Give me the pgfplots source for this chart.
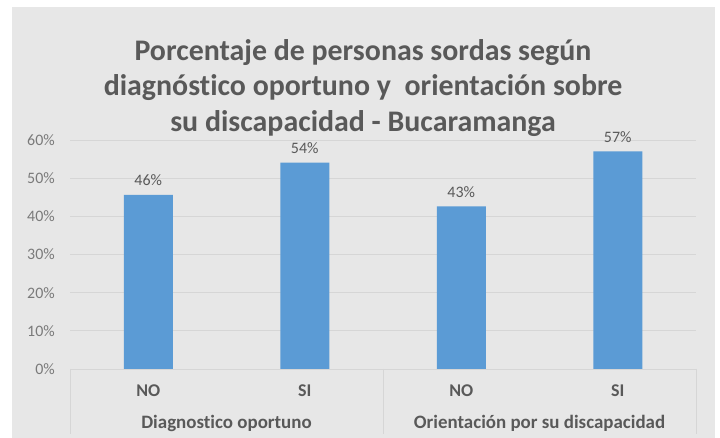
\documentclass[border=0pt]{standalone}
\usepackage{pgfplots}
\pgfplotsset{compat=1.18}
\usepackage{fontspec}
\setmainfont{Carlito}[Ligatures=NoCommon]
\definecolor{bg}{HTML}{E7E7E7}
\definecolor{barblue}{HTML}{5B9BD5}
\definecolor{txt}{HTML}{595959}
\definecolor{ticktxt}{HTML}{7A7A7A}
\definecolor{gridc}{HTML}{D6D6D6}
\begin{document}
\begin{tikzpicture}[x=1bp,y=1bp]
\fill[white] (0,0) rectangle (720,438);
\fill[bg] (12,0) rectangle (715,431);
\node[text=txt, font=\fontsize{30}{36}\selectfont\bfseries, align=center] at (363,350) {Porcentaje de personas sordas según\\diagnóstico oportuno y\ \ orientación sobre\\su discapacidad - Bucaramanga};
\begin{axis}[
  at={(70bp,69bp)}, anchor=south west,
  scale only axis, width=626bp, height=229bp,
  ymin=0, ymax=60, xmin=-0.5, xmax=3.5,
  ybar, bar width=49bp,
  axis line style={draw=none},
  major tick length=0pt,
  /pgf/number format/assume math mode=true,
  ymajorgrids, grid style={gridc, line width=0.8bp},
  ytick={0,10,20,30,40,50,60},
  yticklabel={\pgfmathprintnumber{\tick}\%},
  yticklabel style={text=ticktxt, font=\fontsize{16}{19}\selectfont, anchor=east, inner sep=0pt, xshift=-15bp},
  xtick={0,1,2,3}, xticklabels={NO,SI,NO,SI},
  xticklabel style={text=txt, font=\fontsize{18}{21}\selectfont\bfseries, anchor=north, inner sep=0pt, yshift=-16bp},
  point meta=y,
  nodes near coords={\pgfmathprintnumber[fixed,precision=0]{\pgfplotspointmeta}\%},
  every node near coord/.append style={text=txt, font=\fontsize{16}{19}\selectfont, anchor=south, inner sep=0pt, yshift=9bp},
  clip=false,
]
\addplot[fill=barblue, draw=none] coordinates {(0,45.6) (1,54.1) (2,42.6) (3,57.0)};
\draw[gridc, line width=0.8bp] (axis cs:-0.5,0) -- ++(0bp,-65bp);
\draw[gridc, line width=0.8bp] (axis cs:1.5,0) -- ++(0bp,-65bp);
\draw[gridc, line width=0.8bp] (axis cs:3.5,0) -- ++(0bp,-65bp);
\node[text=txt, font=\fontsize{19}{22}\selectfont\bfseries] at (axis cs:0.5,0) [yshift=-54bp] {Diagnostico oportuno};
\node[text=txt, font=\fontsize{19}{22}\selectfont\bfseries] at (axis cs:2.5,0) [yshift=-54bp] {Orientación por su discapacidad};
\end{axis}
\end{tikzpicture}
\end{document}
